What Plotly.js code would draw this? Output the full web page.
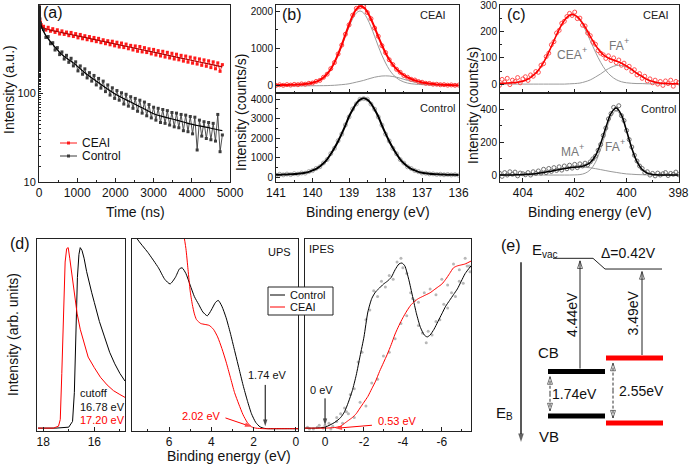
<!DOCTYPE html>
<html><head><meta charset="utf-8">
<script src="https://cdn.plot.ly/plotly-3.0.1.min.js"></script>
<style>html,body{margin:0;padding:0;background:#fff}#chart{width:689px;height:467px}</style>
</head><body><div id="chart"></div>
<script>
// ---------- (a) TRPL ----------
const timeNs = [0,10,20,40,60,120,180,240,300,360,420,480,540,600,660,720,780,840,900,960,1020,1080,1140,1200,1260,1320,1380,1440,1500,1560,1620,1680,1740,1800,1860,1920,1980,2040,2100,2160,2220,2280,2340,2400,2460,2520,2580,2640,2700,2760,2820,2880,2940,3000,3060,3120,3180,3240,3300,3360,3420,3480,3540,3600,3660,3720,3780,3840,3900,3960,4020,4080,4140,4200,4260,4320,4380,4440,4500,4560,4620,4680,4740,4800];
const ceaiPL = [980,760,690,640,600,575,520,560,505,540,490,525,470,510,465,495,450,490,440,475,425,465,415,450,405,440,395,430,385,420,375,405,365,395,355,390,345,380,335,372,330,362,320,350,310,345,300,340,295,330,290,320,280,315,272,305,265,300,258,292,252,285,245,278,240,270,232,265,226,258,220,252,215,246,208,240,203,234,196,228,190,222,178,212];
const controlPL = [960,780,700,620,560,530,430,440,365,375,310,330,275,295,245,270,225,250,205,228,180,205,165,190,150,172,138,160,125,148,115,138,105,125,96,116,88,108,84,102,76,98,72,92,68,88,63,84,60,80,56,75,53,70,50,68,47,66,46,64,44,61,42,60,41,58,38,57,37,55,35,54,23,50,33,48,31,47,30,46,29,58,22,34];
const fitTime = [0,20,50,100,200,300,600,900,1200,1500,1800,2100,2400,2700,3000,3300,3600,3900,4200,4500,4800];
const ceaiFit = [950,700,600,560,535,520,488,458,430,403,378,355,333,312,293,275,258,242,227,213,200];
const controlFit = [950,720,600,520,440,385,275,222,172,138,112,93,80,69,59,54,50,46,43,40.5,38];
const plSeries = ['CEAI', 'Control'];

// ---------- (b) I 3d XPS ----------
const bX = [141.0,140.9,140.8,140.7,140.6,140.5,140.4,140.3,140.2,140.1,140.0,139.9,139.8,139.7,139.6,139.5,139.4,139.3,139.2,139.1,139.0,138.9,138.8,138.7,138.6,138.5,138.4,138.3,138.2,138.1,138.0,137.9,137.8,137.7,137.6,137.5,137.4,137.3,137.2,137.1,137.0,136.9,136.8,136.7,136.6,136.5,136.4,136.3,136.2,136.1,136.0];
const bCeaiMain = [20,22,24,26,28,32,36,42,50,60,78,108,150,216,310,440,612,820,1062,1324,1578,1796,1946,2000,1946,1796,1578,1324,1062,820,612,440,310,216,150,108,78,60,50,42,36,32,28,26,24,22,20,18,16,15,14];
const bCeaiMinor = [2,2,2,2,3,4,4,4,5,5,6,7,8,9,11,15,19,27,36,45,59,80,103,125,149,179,208,234,253,266,270,266,253,234,208,179,149,125,103,80,59,45,36,27,19,15,11,9,8,7,6];
const bCeaiFit = [22,24,26,28,31,36,40,46,55,65,84,115,158,225,321,455,631,847,1098,1369,1637,1876,2049,2125,2095,1975,1786,1558,1315,1086,882,706,563,450,358,287,227,185,153,122,95,77,64,53,43,37,31,27,24,22,20];
const bCeaiData = [15,32,18,35,25,42,34,55,48,72,80,122,150,232,315,462,625,855,1090,1380,1630,1890,2070,2110,2120,1960,1795,1545,1325,1075,890,700,570,445,365,280,232,180,158,118,100,72,68,48,46,33,34,22,28,18,24];
const bControlFit = [116,120,124,132,140,152,167,187,215,263,339,422,538,701,908,1178,1485,1835,2221,2643,3101,3463,3769,3968,4040,3968,3769,3463,3101,2643,2221,1835,1485,1178,908,701,538,422,339,263,215,187,167,152,140,132,124,120,116,112,108];
const bControlData = [95,140,110,150,125,170,150,205,200,280,330,440,525,720,895,1200,1470,1860,2200,2670,3080,3490,3750,3990,4020,3990,3740,3480,3080,2660,2200,1850,1470,1190,895,715,525,435,330,275,205,195,160,160,132,140,115,128,105,118,95];

// ---------- (c) N 1s XPS ----------
const cX = [405.0,404.8,404.6,404.4,404.2,404.0,403.8,403.6,403.4,403.2,403.0,402.8,402.6,402.4,402.2,402.0,401.8,401.6,401.4,401.2,401.0,400.8,400.6,400.4,400.2,400.0,399.8,399.6,399.4,399.2,399.0,398.8,398.6,398.4,398.2,398.0];
const cCeaiCEA = [3,3,4,5,7,11,19,33,53,83,122,166,209,243,262,262,243,209,166,122,83,52,31,17,9,5,3,2,2,1,1,1,1,1,1,1];
const cCeaiFA = [0,0,0,0,0,0,0,0,0,0,0,0,0,0,1,2,4,9,16,27,39,53,64,71,71,64,53,39,27,16,9,4,2,1,0,0];
const cCeaiFit = [3,3,4,5,7,11,19,33,53,83,122,166,209,243,263,264,247,218,182,149,122,105,95,88,80,69,56,41,29,17,10,5,3,2,1,1];
const cControlMA = [0,0,1,1,2,3,5,7,11,16,21,27,33,39,44,47,48,47,44,39,33,27,21,16,11,7,5,3,2,1,1,0,0,0,0,0];
const cControlFA = [0,0,0,0,0,0,0,0,0,0,0,0,0,0,0,1,3,11,32,78,158,261,353,390,353,261,158,78,32,11,3,1,0,0,0,0];
const cControlFit = [0,0,1,1,2,3,5,7,11,16,21,27,33,39,44,48,51,58,76,117,191,288,374,406,364,268,163,81,34,12,4,1,0,0,0,0];
const cDataX = [405.0,404.9,404.8,404.7,404.6,404.5,404.4,404.3,404.2,404.1,404.0,403.9,403.8,403.7,403.6,403.5,403.4,403.3,403.2,403.1,403.0,402.9,402.8,402.7,402.6,402.5,402.4,402.3,402.2,402.1,402.0,401.9,401.8,401.7,401.6,401.5,401.4,401.3,401.2,401.1,401.0,400.9,400.8,400.7,400.6,400.5,400.4,400.3,400.2,400.1,400.0,399.9,399.8,399.7,399.6,399.5,399.4,399.3,399.2,399.1,399.0,398.9,398.8,398.7,398.6,398.5,398.4,398.3,398.2,398.1,398.0];
const cCeaiData = [12,-5,18,8,22,-2,15,10,25,5,20,28,14,35,30,48,45,72,78,105,118,150,162,195,205,232,240,258,270,262,275,250,252,225,222,195,185,160,152,128,118,112,98,108,90,100,82,92,72,80,62,68,48,55,35,40,22,30,12,20,5,15,0,10,-5,12,2,15,-8,10,5];
const cControlData = [5,12,-8,15,0,20,5,18,-5,12,8,2,15,0,20,10,25,12,35,15,40,22,45,28,50,30,55,38,60,42,65,45,68,55,72,62,80,98,115,150,185,240,285,340,372,410,400,420,360,330,270,215,170,120,85,55,40,15,20,0,10,-5,12,0,8,15,-3,10,5,18,2];

// ---------- (d) UPS / IPES ----------
const cutX_ctrl = [18.2,17.5,17.0,16.85,16.78,16.72,16.66,16.6,16.55,16.48,16.4,16.3,16.2,16.1,16.0,15.9,15.8,15.6,15.4,15.2,15.0,14.8];
const cutY_ctrl = [0.015,0.015,0.02,0.05,0.2,0.5,0.8,0.92,0.955,0.94,0.9,0.83,0.77,0.72,0.67,0.62,0.57,0.49,0.41,0.35,0.30,0.26];
const cutX_ceai = [18.2,17.6,17.4,17.33,17.27,17.2,17.14,17.08,17.02,16.96,16.9,16.86,16.75,16.67,16.55,16.43,16.24,16.0,15.76,15.5,15.25,15.0,14.8];
const cutY_ceai = [0.015,0.015,0.025,0.06,0.3,0.65,0.88,0.95,0.955,0.9,0.84,0.8,0.7,0.61,0.53,0.47,0.385,0.33,0.28,0.24,0.21,0.19,0.175];
const vbX_ctrl = [7.75,7.5,7.0,6.5,6.2,5.95,5.7,5.5,5.38,5.2,5.0,4.8,4.6,4.4,4.19,4.0,3.8,3.67,3.5,3.3,3.1,2.9,2.7,2.5,2.3,2.1,1.9,1.7,1.5,1.3,0.8,0.3,-0.1];
const vbY_ctrl = [1.06,1.0,0.93,0.85,0.79,0.766,0.80,0.845,0.85,0.82,0.76,0.70,0.66,0.62,0.60,0.63,0.67,0.68,0.65,0.59,0.51,0.42,0.33,0.24,0.16,0.09,0.045,0.022,0.014,0.012,0.012,0.012,0.012];
const vbX_ceai = [5.45,5.3,5.2,5.1,5.0,4.9,4.8,4.7,4.5,4.3,4.1,3.9,3.7,3.5,3.3,3.1,2.9,2.7,2.5,2.3,2.1,1.9,1.5,0.8,0.3,-0.1];
const vbY_ceai = [1.1,1.02,0.95,0.84,0.73,0.66,0.61,0.58,0.56,0.555,0.55,0.53,0.49,0.43,0.36,0.28,0.2,0.14,0.085,0.045,0.022,0.015,0.012,0.012,0.012,0.012];
const ipX_ctrl = [1.03,0.5,0,-0.5,-0.8,-1.0,-1.2,-1.4,-1.6,-1.8,-2.0,-2.2,-2.4,-2.6,-2.8,-3.0,-3.2,-3.4,-3.6,-3.8,-3.95,-4.1,-4.3,-4.5,-4.7,-4.9,-5.1,-5.25,-5.4,-5.6,-5.8,-6.0,-6.2,-6.4,-6.6,-6.8,-7.0,-7.2,-7.5];
const ipY_ctrl = [0.015,0.015,0.02,0.045,0.07,0.10,0.15,0.21,0.29,0.39,0.49,0.62,0.69,0.725,0.745,0.765,0.78,0.80,0.84,0.87,0.875,0.86,0.79,0.70,0.61,0.54,0.50,0.49,0.50,0.53,0.57,0.61,0.65,0.68,0.71,0.74,0.78,0.82,0.86];
const ipX_ceai = [1.03,0.5,0,-0.5,-0.8,-1.0,-1.2,-1.4,-1.6,-1.8,-2.0,-2.2,-2.4,-2.6,-2.8,-3.0,-3.2,-3.4,-3.6,-3.8,-4.0,-4.2,-4.4,-4.6,-4.8,-5.0,-5.2,-5.4,-5.6,-5.8,-6.0,-6.2,-6.4,-6.6,-6.8,-7.0,-7.2,-7.5];
const ipY_ceai = [0.015,0.015,0.015,0.018,0.025,0.04,0.055,0.07,0.09,0.12,0.15,0.18,0.22,0.26,0.31,0.355,0.40,0.45,0.505,0.55,0.59,0.625,0.655,0.675,0.69,0.70,0.71,0.72,0.735,0.75,0.765,0.79,0.82,0.85,0.86,0.865,0.87,0.885];
const ipRawX = [0.9,0.6,0.3,0.1,-0.2,-0.4,-0.6,-0.8,-1.0,-1.1,-1.3,-1.5,-1.7,-1.9,-2.1,-2.3,-2.5,-2.7,-2.9,-3.1,-3.3,-3.5,-3.7,-3.9,-4.0,-4.2,-4.4,-4.6,-4.8,-5.0,-5.2,-5.3,-5.5,-5.7,-5.9,-6.1,-6.3,-6.5,-6.7,-6.9,-7.1,-7.3,-7.45,
  0.8,0.4,0.0,-0.3,-0.6,-0.9,-1.2,-1.5,-1.8,-2.1,-2.4,-2.7,-3.0,-3.3,-3.6,-3.9,-4.2,-4.5,-4.8,-5.1,-5.4,-5.7,-6.0,-6.3,-6.6,-6.9,-7.2,-7.4];
const ipRawY = [0.02,0.01,0.03,0.015,0.04,0.025,0.07,0.09,0.12,0.10,0.19,0.22,0.36,0.41,0.58,0.63,0.73,0.70,0.78,0.75,0.81,0.79,0.88,0.90,0.85,0.82,0.72,0.68,0.55,0.51,0.46,0.52,0.50,0.57,0.58,0.66,0.64,0.72,0.70,0.78,0.77,0.86,0.83,
  0.01,0.02,0.03,0.01,0.05,0.04,0.09,0.07,0.15,0.13,0.25,0.27,0.39,0.41,0.48,0.56,0.60,0.69,0.67,0.72,0.74,0.71,0.79,0.76,0.87,0.84,0.90,0.86];
const cutoffE = [16.78, 17.20];
const vbmOnset = [1.74, 2.02];
const cbmOnset = [0, 0.53];
const spectraSeries = ['Control', 'CEAI'];

// ---------- (e) energy diagram ----------
const bandSamples = ['Control', 'CEAI'];
const vacShift = [0, 0.42];
const cbDepth = [4.44, 3.49];
const gapE = [1.74, 2.55];

const W = 689, H = 467;
const px = x => x / W, py = y => 1 - y / H;
const FONT = 'Liberation Sans, Arial, sans-serif';
const LC = '#222';
function axis(o) {
  return Object.assign({showline:true, linecolor:LC, linewidth:1, mirror:true, ticks:'inside', ticklen:4,
    tickwidth:1, tickcolor:LC, showgrid:false, zeroline:false, fixedrange:true,
    tickfont:{family:FONT, size:12, color:'#111'}}, o);
}
const minor = d => ({ticks:'inside', ticklen:2, tickcolor:LC, dtick:d, showgrid:false});

const RED = '#ff1a1a', GRAY = '#9a9a9a';
const traces = [];
function add(t) { t.showlegend = false; traces.push(t); }

// (a)
add({x:timeNs, y:ceaiPL, xaxis:'x', yaxis:'y', mode:'lines+markers', name:plSeries[0],
  line:{color:RED, width:0.9}, marker:{symbol:'square', size:3, color:RED}});
add({x:timeNs, y:controlPL, xaxis:'x', yaxis:'y', mode:'lines+markers', name:plSeries[1],
  line:{color:'#3c3c3c', width:0.9}, marker:{symbol:'square', size:3, color:'#3c3c3c'}});
add({x:fitTime, y:ceaiFit, xaxis:'x', yaxis:'y', mode:'lines', line:{color:'#b00000', width:1.2, shape:'spline'}});
add({x:fitTime, y:controlFit, xaxis:'x', yaxis:'y', mode:'lines', line:{color:'#000', width:1.2, shape:'spline'}});

// (b) top CEAI
add({x:bX, y:bCeaiMain, xaxis:'x3', yaxis:'y3', mode:'lines', line:{color:GRAY, width:1, shape:'spline'}});
add({x:bX, y:bCeaiMinor, xaxis:'x3', yaxis:'y3', mode:'lines', line:{color:GRAY, width:1, shape:'spline'}});
add({x:bX, y:bCeaiData, xaxis:'x3', yaxis:'y3', mode:'markers', marker:{symbol:'circle-open', size:4, color:'#ff4040', line:{width:1}}});
add({x:bX, y:bCeaiFit, xaxis:'x3', yaxis:'y3', mode:'lines', line:{color:'#ff0000', width:2, shape:'spline'}});
// (b) bottom Control
add({x:bX, y:bControlData, xaxis:'x2', yaxis:'y2', mode:'markers', marker:{symbol:'circle-open', size:4, color:'#a8a8a8', line:{width:1}}});
add({x:bX, y:bControlFit, xaxis:'x2', yaxis:'y2', mode:'lines', line:{color:'#000', width:2, shape:'spline'}});

// (c) top CEAI
add({x:cX, y:cCeaiCEA, xaxis:'x5', yaxis:'y5', mode:'lines', line:{color:GRAY, width:1, shape:'spline'}});
add({x:cX, y:cCeaiFA, xaxis:'x5', yaxis:'y5', mode:'lines', line:{color:GRAY, width:1, shape:'spline'}});
add({x:cDataX, y:cCeaiData, xaxis:'x5', yaxis:'y5', mode:'markers', marker:{symbol:'circle-open', size:4, color:'#ff5050', line:{width:1}}});
add({x:cX, y:cCeaiFit, xaxis:'x5', yaxis:'y5', mode:'lines', line:{color:'#ff0000', width:1.5, shape:'spline'}});
// (c) bottom Control
add({x:cX, y:cControlMA, xaxis:'x4', yaxis:'y4', mode:'lines', line:{color:GRAY, width:1, shape:'spline'}});
add({x:cX, y:cControlFA, xaxis:'x4', yaxis:'y4', mode:'lines', line:{color:GRAY, width:1, shape:'spline'}});
add({x:cDataX, y:cControlData, xaxis:'x4', yaxis:'y4', mode:'markers', marker:{symbol:'circle-open', size:4, color:'#707070', line:{width:1}}});
add({x:cX, y:cControlFit, xaxis:'x4', yaxis:'y4', mode:'lines', line:{color:'#000', width:1.5, shape:'spline'}});

// (d) cutoff
add({x:cutX_ctrl, y:cutY_ctrl, xaxis:'x6', yaxis:'y6', mode:'lines', line:{color:'#000', width:1}});
add({x:cutX_ceai, y:cutY_ceai, xaxis:'x6', yaxis:'y6', mode:'lines', line:{color:'#ff0000', width:1}});
// (d) UPS VB
add({x:vbX_ctrl, y:vbY_ctrl, xaxis:'x7', yaxis:'y7', mode:'lines', name:spectraSeries[0], line:{color:'#000', width:1, shape:'spline', smoothing:0.6}});
add({x:vbX_ceai, y:vbY_ceai, xaxis:'x7', yaxis:'y7', mode:'lines', name:spectraSeries[1], line:{color:'#ff0000', width:1, shape:'spline', smoothing:0.6}});
// (d) IPES
add({x:ipRawX, y:ipRawY, xaxis:'x8', yaxis:'y8', mode:'markers', marker:{symbol:'circle', size:3, color:'#b8b8b8'}});
add({x:ipX_ctrl, y:ipY_ctrl, xaxis:'x8', yaxis:'y8', mode:'lines', line:{color:'#000', width:1, shape:'spline', smoothing:0.6}});
add({x:ipX_ceai, y:ipY_ceai, xaxis:'x8', yaxis:'y8', mode:'lines', line:{color:'#ff0000', width:1, shape:'spline', smoothing:0.6}});

// arrows drawn as line + arrow marker at the head (tail -> head)
function arrow(xa, ya, x0, y0, x1, y1, col, o) {
  o = o || {};
  add({x:[x0, x1], y:[y0, y1], xaxis:xa, yaxis:ya, mode:'lines+markers', hoverinfo:'skip',
    line:{color:col, width:o.width || 1, dash:o.dash || 'solid'},
    marker:{symbol:o.symbol || 'arrow', size:[0, o.size || 7], angleref:'previous', color:col,
      line:{color:col, width:o.mlw || 0}}});
}
arrow('x7', 'y7', 1.45, 0.24, 1.45, 0.025, '#000');
arrow('x7', 'y7', 3.33, 0.068, 2.1, 0.022, '#ff0000');
arrow('x8', 'y8', 0, 0.17, 0, 0.03, '#000');
arrow('x8', 'y8', -2.41, 0.03, -0.53, 0.014, '#ff0000');

// (e) energy diagram
const cb = vacShift.map((v, i) => v + cbDepth[i]);
const vb = cb.map((c, i) => c + gapE[i]);
const barX = [[548, 605], [606, 663]];
const barCol = ['#000', '#ff0000'];
add({x:[553, 593, 605, 662], y:[vacShift[0], vacShift[0], vacShift[1], vacShift[1]], xaxis:'x9', yaxis:'y9', mode:'lines', line:{color:LC, width:1}});
for (let i = 0; i < 2; i++) {
  add({x:barX[i], y:[cb[i], cb[i]], xaxis:'x9', yaxis:'y9', mode:'lines', name:bandSamples[i] + ' CB', line:{color:barCol[i], width:5}});
  add({x:barX[i], y:[vb[i], vb[i]], xaxis:'x9', yaxis:'y9', mode:'lines', name:bandSamples[i] + ' VB', line:{color:barCol[i], width:5}});
}
const upX = [580, 642];
const dashX = [550, 613];
const OPEN = {symbol:'arrow-open', size:8, mlw:1};
for (let i = 0; i < 2; i++) {
  arrow('x9', 'y9', upX[i], cb[i] - 0.12, upX[i], vacShift[i] + 0.1, '#222', OPEN);
  const mid = (cb[i] + vb[i]) / 2;
  arrow('x9', 'y9', dashX[i], mid, dashX[i], cb[i] + 0.2, '#333', Object.assign({dash:'3px,2px'}, OPEN));
  arrow('x9', 'y9', dashX[i], mid, dashX[i], vb[i] - 0.2, '#333', Object.assign({dash:'3px,2px'}, OPEN));
}
arrow('x9', 'y9', 521, 0.15, 521, 7.2, '#222', {width:1.5, size:9, symbol:'arrow'});

const ann = [];
const shapes = [];
function txt(text, x, y, o) {
  ann.push(Object.assign({text, x:px(x), y:py(y), xref:'paper', yref:'paper', showarrow:false,
    xanchor:'center', yanchor:'middle', font:{family:FONT, size:12, color:'#111'}}, o || {}));
}
const F = (s, c) => ({family:FONT, size:s, color:c || '#111'});
// axis titles
txt('Intensity (a.u.)', 9, 90, {textangle:-90, font:F(14)});
txt('Time (ns)', 135, 212, {font:F(14)});
txt('Intensity (counts/s)', 241, 112, {textangle:-90, font:F(14)});
txt('Binding energy (eV)', 368, 212, {font:F(14)});
txt('Intensity (counts/s)', 473, 105, {textangle:-90, font:F(14)});
txt('Binding energy (eV)', 590, 212, {font:F(14)});
txt('Intensity (arb. units)', 13, 335, {textangle:-90, font:F(14)});
txt('Binding energy (eV)', 229, 456, {font:F(14)});
// panel labels
txt('(a)', 53, 13, {font:F(16)});
txt('(b)', 292, 14, {font:F(16)});
txt('(c)', 516, 14, {font:F(16)});
txt('(d)', 20, 244, {font:F(16)});
// legend (a)
const legA = [{y:143, col:RED}, {y:156, col:'#3c3c3c'}];
legA.forEach((l, i) => {
  shapes.push({type:'line', xref:'paper', yref:'paper', x0:px(60), x1:px(77), y0:py(l.y), y1:py(l.y), line:{color:l.col, width:1}});
  shapes.push({type:'rect', xref:'paper', yref:'paper', x0:px(67), x1:px(70), y0:py(l.y - 1.5), y1:py(l.y + 1.5), fillcolor:l.col, line:{width:0}});
  txt(plSeries[i], 80, l.y, {xanchor:'left', font:F(12)});
});
// legend (d)
shapes.push({type:'rect', xref:'paper', yref:'paper', x0:px(268), x1:px(333), y0:py(315), y1:py(287), fillcolor:'#fff', line:{color:LC, width:1}, layer:'above'});
[{y:295, col:'#000'}, {y:307, col:'#ff0000'}].forEach((l, i) => {
  shapes.push({type:'line', xref:'paper', yref:'paper', x0:px(270), x1:px(285), y0:py(l.y), y1:py(l.y), line:{color:l.col, width:1}, layer:'above'});
  txt(spectraSeries[i], 288, l.y, {xanchor:'left', font:F(11)});
});
// (b),(c) labels
txt('CEAI', 433, 15, {font:F(11, '#222')});
txt('Control', 437, 108, {font:F(11, '#222')});
txt('CEAI', 656, 15, {font:F(11, '#222')});
txt('Control', 658, 109, {font:F(11, '#222')});
// ion labels with raised "+" drawn as separate small text
function ion(name, xr, y) {
  txt(name, xr, y, {xanchor:'right', font:F(12, '#777')});
  txt('+', xr - 4, y - 5, {xanchor:'left', font:F(9, '#777')});
}
ion('CEA', 584, 55);
ion('FA', 626, 46);
ion('MA', 581, 152);
ion('FA', 622, 147);
// (d) labels
txt('cutoff', 78, 393, {xanchor:'left', font:F(11)});
txt(cutoffE[0].toFixed(2) + ' eV', 78, 407, {xanchor:'left', font:F(11)});
txt(cutoffE[1].toFixed(2) + ' eV', 78, 420, {xanchor:'left', font:F(11, '#ff0000')});
txt('UPS', 279, 252, {font:F(11)});
txt('IPES', 321, 249, {font:F(11)});
txt(vbmOnset[0].toFixed(2) + ' eV', 267, 375, {font:F(11)});
txt(vbmOnset[1].toFixed(2) + ' eV', 201, 416, {font:F(11, '#ff0000')});
txt(cbmOnset[0] + ' eV', 321, 390, {font:F(11)});
txt(cbmOnset[1].toFixed(2) + ' eV', 397, 421, {font:F(11, '#ff0000')});

// (e) texts
function etxt(text, x, y, o) {
  ann.push(Object.assign({text, x, y, xref:'x9', yref:'y9', showarrow:false, xanchor:'center', yanchor:'middle',
    font:F(15)}, o || {}));
}
etxt('(e)', 511, -0.52, {font:F(16)});
etxt('E', 537, -0.33);
etxt('vac', 540, -0.16, {xanchor:'left', font:F(10)});
etxt('\u0394=' + vacShift[1].toFixed(2) + 'V', 628, -0.2, {font:F(14)});
etxt(cbDepth[0].toFixed(2) + 'eV', 572, (vacShift[0] + cb[0]) / 2, {textangle:-90, font:F(14)});
etxt(cbDepth[1].toFixed(2) + 'eV', 633, (vacShift[1] + cb[1]) / 2, {textangle:-90, font:F(14)});
etxt('CB', 548, cb[0] - 0.75);
etxt('VB', 549, vb[0] + 0.8);
etxt(gapE[0].toFixed(2) + 'eV', 574, (cb[0] + vb[0]) / 2, {font:F(14)});
etxt(gapE[1].toFixed(2) + 'eV', 641, (cb[1] + vb[1]) / 2, {font:F(14)});
etxt('E', 501, 6.04);
etxt('B', 504, 6.2, {xanchor:'left', font:F(10)});

const layout = {
  width:W, height:H, margin:{l:0, r:0, t:0, b:0}, paper_bgcolor:'#fff', plot_bgcolor:'rgba(0,0,0,0)',
  font:{family:FONT, color:'#111'}, showlegend:false,
  xaxis: axis({domain:[px(39), px(230)], range:[0, 5000], anchor:'y', tickvals:[0,1000,2000,3000,4000,5000], minor:minor(500)}),
  yaxis: axis({domain:[py(182), py(5)], type:'log', range:[1, 3], anchor:'x', tickvals:[10,100,1000],
    tickfont:F(11), minor:{ticks:'inside', ticklen:2, tickcolor:LC}}),
  xaxis2: axis({domain:[px(276), px(459)], range:[141, 135.99], anchor:'y2', dtick:1, minor:minor(0.5)}),
  yaxis2: axis({domain:[py(182), py(93)], range:[-256, 4308], anchor:'x2', tickvals:[0,1000,2000,3000,4000],
    tickfont:F(10), minor:minor(500)}),
  xaxis3: axis({domain:[px(276), px(459)], range:[141, 135.99], anchor:'y3', dtick:1, showticklabels:false, minor:minor(0.5)}),
  yaxis3: axis({domain:[py(93), py(5)], range:[-187, 2160], anchor:'x3', tickvals:[0,1000,2000],
    tickfont:F(10), minor:minor(500)}),
  xaxis4: axis({domain:[px(500), px(679)], range:[404.88, 397.98], anchor:'y4', tickvals:[404,402,400,398], minor:minor(1)}),
  yaxis4: axis({domain:[py(182), py(93)], range:[-42, 497], anchor:'x4', tickvals:[0,200,400],
    tickfont:F(10), minor:minor(100)}),
  xaxis5: axis({domain:[px(500), px(679)], range:[404.88, 397.98], anchor:'y5', tickvals:[404,402,400,398], showticklabels:false, minor:minor(1)}),
  yaxis5: axis({domain:[py(93), py(5)], range:[-34, 302], anchor:'x5', tickvals:[0,100,200,300],
    tickfont:F(10), minor:minor(50)}),
  xaxis6: axis({domain:[px(37), px(125)], range:[18.24, 14.8], anchor:'y6', tickvals:[18,16], minor:minor(1)}),
  yaxis6: axis({domain:[py(431), py(239)], range:[0, 1], anchor:'x6', showticklabels:false, ticks:''}),
  xaxis7: axis({domain:[px(132), px(298)], range:[7.75, -0.1], anchor:'y7', tickvals:[6,4,2,0], minor:minor(1)}),
  yaxis7: axis({domain:[py(431), py(239)], range:[0, 1], anchor:'x7', showticklabels:false, ticks:''}),
  xaxis8: axis({domain:[px(305), px(471)], range:[1.03, -7.5], anchor:'y8', tickvals:[0,-2,-4,-6], ticktext:['0','-2','-4','-6'], minor:minor(1)}),
  yaxis8: axis({domain:[py(431), py(239)], range:[0, 1], anchor:'x8', showticklabels:false, ticks:''}),
  xaxis9: {domain:[px(500), 1], range:[500, 689], anchor:'y9', visible:false, fixedrange:true},
  yaxis9: {domain:[0, py(230)], range:[8.18, -1.11], anchor:'x9', visible:false, fixedrange:true},
  annotations: ann, shapes: shapes
};
Plotly.newPlot('chart', traces, layout, {displayModeBar:false, staticPlot:true});
</script></body></html>
